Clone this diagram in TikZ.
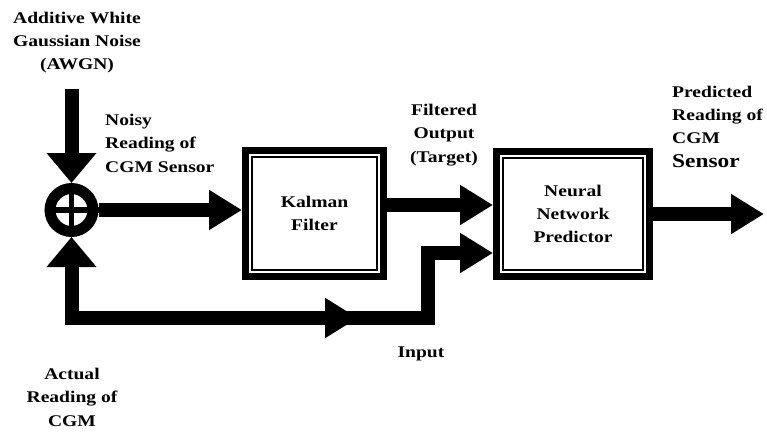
\documentclass[tikz,border=0pt]{standalone}
\usepackage{fontspec}
\setmainfont{Liberation Serif}[FakeStretch=1.2]
\usetikzlibrary{arrows.meta}
\tikzset{
  lbl/.style={font=\bfseries\fontsize{16.3}{23.3}\selectfont, inner sep=0pt},
  wire/.style={line width=14pt, line join=miter},
  harr/.style={wire, -{Triangle[length=33pt,width=38pt]}},
  varr/.style={wire, -{Triangle[length=30pt,width=48pt]}},
  blockbox/.style={draw, line width=6.7pt, fill=white, align=center,
    font=\bfseries\fontsize{16.3}{23.3}\selectfont, inner sep=0pt},
  innerline/.style={line width=2pt},
  sumnode/.style={circle, draw, line width=11pt, minimum size=43pt, inner sep=0pt}
}
\begin{document}
\begin{tikzpicture}[x=1pt,y=-1pt]
\useasboundingbox (0,0) rectangle (767,433);
% blocks
\node[blockbox, minimum width=138.3pt, minimum height=126.3pt] (kf) at (314.5,213.5) {Kalman\\Filter};
\node[blockbox, minimum width=153.3pt, minimum height=125.3pt] (nn) at (573,214) {Neural\\Network\\Predictor};
\draw[innerline] ([xshift=10pt,yshift=-10pt]kf.north west) rectangle ([xshift=-10pt,yshift=10pt]kf.south east);
\draw[innerline] ([xshift=10pt,yshift=-10pt]nn.north west) rectangle ([xshift=-10pt,yshift=10pt]nn.south east);
% summing junction
\node[sumnode] (j) at (71.5,210) {};
\draw[line width=5.5pt] (j.north) -- (j.south) (j.west) -- (j.east);
% coordinates
\coordinate (noise) at (71.5,89);
\coordinate (inTip) at (358,318);
\coordinate (inBase) at (325,318);
\coordinate (bend) at (428,253);
\coordinate (out) at (764,214);
% connectors
\draw[varr] (noise) -- (j.north);
\draw[wire, {Triangle[length=30pt,width=48pt]}-{Triangle[length=33pt,width=38pt]}] (j.south) |- (inTip);
\draw[harr] (inBase) -| (bend) -- (bend -| nn.west);
\draw[harr] (j.east) -- (j.east -| kf.west);
\draw[harr] ([yshift=8.5pt]kf.east) -- ([yshift=8.5pt]kf.east -| nn.west);
\draw[harr] (nn.east) -- (out);
% labels (base anchor = baseline of last line)
\node[lbl, align=center, anchor=base] (awgn) at (77,70) {Additive White\\Gaussian Noise\\(AWGN)};
\node[lbl, align=left, anchor=base west] (noisy) at (105,172) {Noisy\\Reading of\\CGM Sensor};
\node[lbl, align=center, anchor=base] (filt) at (444,162) {Filtered\\Output\\(Target)};
\node[lbl, align=left, anchor=base west] (pred) at (672,167) {Predicted\\Reading of\\CGM\\{\fontsize{19.5}{25}\selectfont Sensor}};
\node[lbl, align=center, anchor=base] (act) at (72,426) {Actual\\Reading of\\CGM};
\node[lbl, anchor=base] (inp) at (421,357) {Input};
\end{tikzpicture}
\end{document}
